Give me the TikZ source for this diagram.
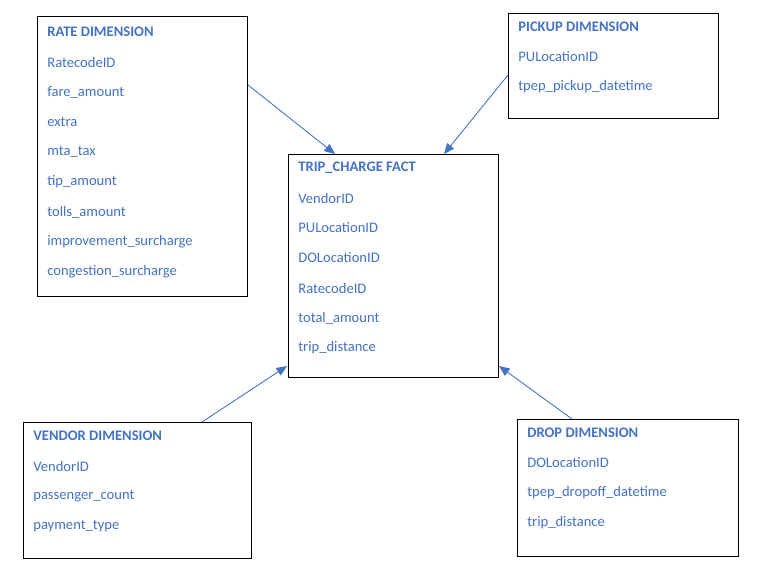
\documentclass[tikz,border=0pt]{standalone}
\usepackage{fontspec}
\setmainfont{Carlito}
\usepackage{xcolor}
\usetikzlibrary{calc,arrows.meta}
\definecolor{dimblue}{HTML}{4472C4}
\tikzset{
  tbl/.style={draw=black, line width=0.6pt, anchor=north west, inner sep=0pt},
  fld/.style={anchor=west, inner sep=0pt, text=dimblue, font=\fontsize{8.3}{10}\selectfont},
  ttl/.style={fld, font=\fontsize{8.3}{10}\selectfont\bfseries},
  link/.style={draw=dimblue, line width=0.5pt, -{Triangle[length=6pt,width=5pt]}}
}

\begin{document}
\begin{tikzpicture}[x=0.02cm, y=-0.02cm]
\useasboundingbox[fill=white] (0,0) rectangle (761,566);
% tables
\node[tbl, minimum width=4.2cm, minimum height=5.6cm] (rate) at (37,16) {};
\node[tbl, minimum width=4.2cm, minimum height=2.1cm] (pickup) at (508,13) {};
\node[tbl, minimum width=4.2cm, minimum height=4.46cm] (fact) at (288,154) {};
\node[tbl, minimum width=4.56cm, minimum height=2.72cm] (vendor) at (23,422) {};
\node[tbl, minimum width=4.42cm, minimum height=2.74cm] (drop) at (517,419) {};
% rate dimension
\node[ttl] (ratet) at (47,32) {RATE DIMENSION};
\node[fld] (rate1) at (47,62) {RatecodeID};
\node[fld] (rate2) at (47,92) {fare\_amount};
\node[fld] (rate3) at (47,122) {extra};
\node[fld] (rate4) at (47,152) {mta\_tax};
\node[fld] (rate5) at (47,182) {tip\_amount};
\node[fld] (rate6) at (47,212) {tolls\_amount};
\node[fld] (rate7) at (47,242) {improvement\_surcharge};
\node[fld] (rate8) at (47,272) {congestion\_surcharge};
% pickup dimension
\node[ttl] (pickupt) at (518,27) {PICKUP DIMENSION};
\node[fld] (pickup1) at (518,57) {PULocationID};
\node[fld] (pickup2) at (518,87) {tpep\_pickup\_datetime};
% fact table
\node[ttl] (factt) at (298,168) {TRIP\_CHARGE FACT};
\node[fld] (fact1) at (298,198) {VendorID};
\node[fld] (fact2) at (298,228) {PULocationID};
\node[fld] (fact3) at (298,258) {DOLocationID};
\node[fld] (fact4) at (298,288) {RatecodeID};
\node[fld] (fact5) at (298,318) {total\_amount};
\node[fld] (fact6) at (298,348) {trip\_distance};
% vendor dimension
\node[ttl] (vendort) at (33,436) {VENDOR DIMENSION};
\node[fld] (vendor1) at (33,466) {VendorID};
\node[fld] (vendor2) at (33,496) {passenger\_count};
\node[fld] (vendor3) at (33,526) {payment\_type};
% drop dimension
\node[ttl] (dropt) at (527,433) {DROP DIMENSION};
\node[fld] (drop1) at (527,463) {DOLocationID};
\node[fld] (drop2) at (527,493) {tpep\_dropoff\_datetime};
\node[fld] (drop3) at (527,523) {trip\_distance};
% links
\draw[link] ($(rate.north east)+(0,69)$) -- ($(fact.north west)+(47,0)$);
\draw[link] ($(pickup.north west)+(0,62)$) -- ($(fact.north east)+(-55,0)$);
\draw[link] ($(vendor.north west)+(179,0)$) -- ($(fact.south west)+(-1,-12)$);
\draw[link] ($(drop.north west)+(55,0)$) -- ($(fact.south east)+(0,-12)$);
\end{tikzpicture}
\end{document}
